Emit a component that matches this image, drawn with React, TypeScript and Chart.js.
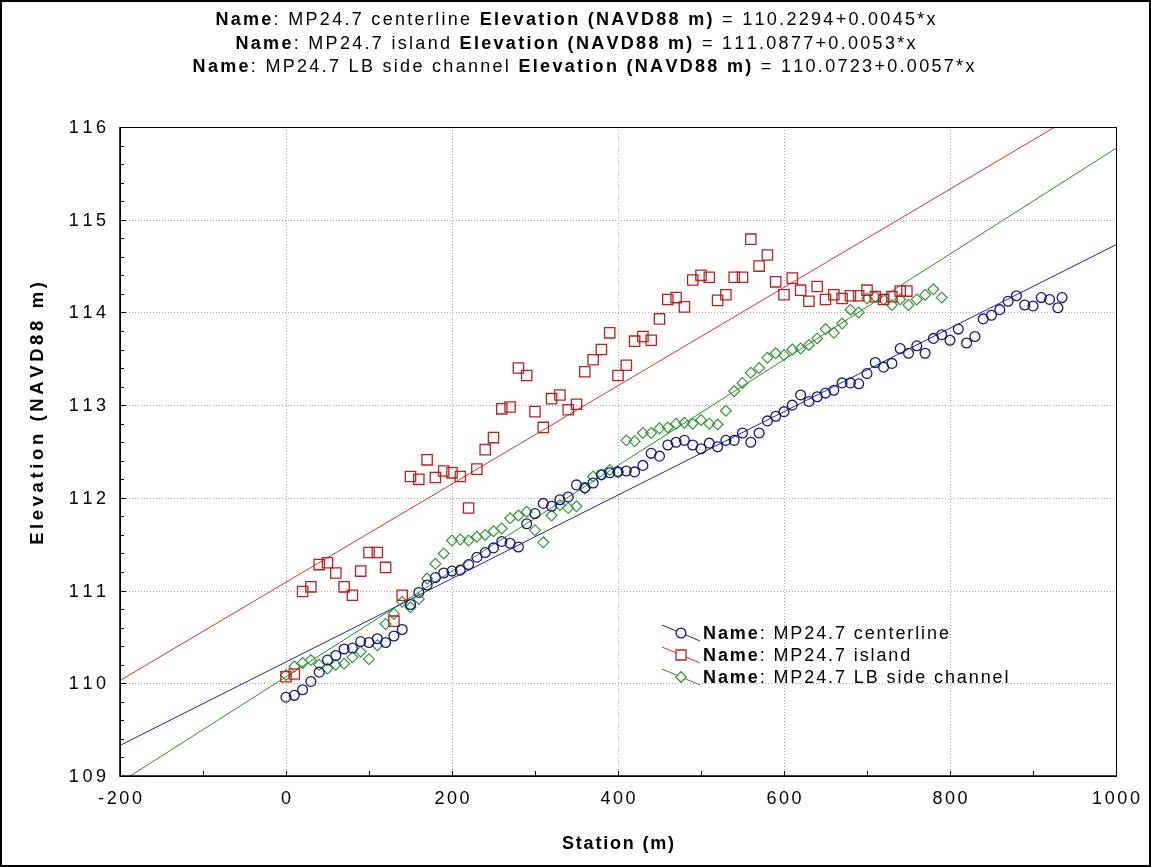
import React, { useEffect, useRef } from 'react';
import { Chart, registerables } from 'chart.js';

Chart.register(...registerables);

// ---------- data ----------
const centerlineStation = [0, 10, 20, 30, 40, 50, 60, 70, 80, 90, 100, 110, 120, 130, 140, 150, 160, 170, 180, 190, 200, 210, 220, 230, 240, 250, 260, 270, 280, 290, 300, 310, 320, 330, 340, 350, 360, 370, 380, 390, 400, 410, 420, 430, 440, 450, 460, 470, 480, 490, 500, 510, 520, 530, 540, 550, 560, 570, 580, 590, 600, 610, 620, 630, 640, 650, 660, 670, 680, 690, 700, 710, 720, 730, 740, 750, 760, 770, 780, 790, 800, 810, 820, 830, 840, 850, 860, 870, 880, 890, 900, 910, 920, 930, 935];
const centerlineElev = [109.85, 109.87, 109.93, 110.02, 110.12, 110.25, 110.3, 110.37, 110.38, 110.45, 110.44, 110.48, 110.44, 110.51, 110.58, 110.85, 110.98, 111.06, 111.14, 111.19, 111.21, 111.22, 111.28, 111.36, 111.41, 111.46, 111.53, 111.51, 111.47, 111.72, 111.83, 111.94, 111.91, 111.98, 112.01, 112.14, 112.11, 112.16, 112.25, 112.27, 112.28, 112.29, 112.28, 112.35, 112.48, 112.45, 112.57, 112.6, 112.62, 112.57, 112.53, 112.59, 112.55, 112.62, 112.62, 112.7, 112.6, 112.7, 112.83, 112.88, 112.93, 113.0, 113.11, 113.04, 113.09, 113.13, 113.16, 113.24, 113.24, 113.23, 113.34, 113.46, 113.41, 113.45, 113.61, 113.56, 113.64, 113.56, 113.72, 113.76, 113.7, 113.82, 113.67, 113.74, 113.93, 113.97, 114.03, 114.12, 114.18, 114.08, 114.07, 114.16, 114.14, 114.05, 114.16];

const islandStation = [0, 10, 20, 30, 40, 50, 60, 70, 80, 90, 100, 110, 120, 130, 140, 150, 160, 170, 180, 190, 200, 210, 220, 230, 240, 250, 260, 270, 280, 290, 300, 310, 320, 330, 340, 350, 360, 370, 380, 390, 400, 410, 420, 430, 440, 450, 460, 470, 480, 490, 500, 510, 520, 530, 540, 550, 560, 570, 580, 590, 600, 610, 620, 630, 640, 650, 660, 670, 680, 690, 700, 710, 720, 730, 740, 748];
const islandElev = [110.07, 110.1, 110.99, 111.04, 111.28, 111.3, 111.19, 111.04, 110.95, 111.21, 111.41, 111.41, 111.25, 110.67, 110.95, 112.23, 112.2, 112.41, 112.22, 112.29, 112.27, 112.23, 111.89, 112.31, 112.52, 112.65, 112.96, 112.98, 113.4, 113.32, 112.93, 112.76, 113.07, 113.11, 112.95, 113.01, 113.36, 113.49, 113.6, 113.78, 113.32, 113.43, 113.69, 113.74, 113.7, 113.93, 114.14, 114.16, 114.06, 114.35, 114.4, 114.38, 114.13, 114.19, 114.38, 114.38, 114.79, 114.5, 114.62, 114.33, 114.19, 114.37, 114.24, 114.12, 114.28, 114.14, 114.19, 114.15, 114.18, 114.18, 114.24, 114.17, 114.14, 114.17, 114.23, 114.23];

const sideStation = [0, 10, 20, 30, 40, 50, 60, 70, 80, 90, 100, 110, 120, 130, 140, 150, 160, 170, 180, 190, 200, 210, 220, 230, 240, 250, 260, 270, 280, 290, 300, 310, 320, 330, 340, 350, 360, 370, 380, 390, 400, 410, 420, 430, 440, 450, 460, 470, 480, 490, 500, 510, 520, 530, 540, 550, 560, 570, 580, 590, 600, 610, 620, 630, 640, 650, 660, 670, 680, 690, 700, 710, 720, 730, 740, 750, 760, 770, 780, 790];
const sideElev = [110.09, 110.18, 110.22, 110.25, 110.2, 110.16, 110.2, 110.21, 110.28, 110.34, 110.26, 110.41, 110.64, 110.75, 110.88, 110.82, 110.91, 111.13, 111.29, 111.4, 111.54, 111.55, 111.54, 111.58, 111.6, 111.64, 111.67, 111.78, 111.81, 111.85, 111.65, 111.52, 111.81, 111.92, 111.89, 111.91, 112.1, 112.23, 112.25, 112.3, 112.28, 112.62, 112.61, 112.7, 112.7, 112.75, 112.76, 112.8, 112.81, 112.8, 112.84, 112.8, 112.79, 112.94, 113.15, 113.24, 113.35, 113.4, 113.51, 113.56, 113.54, 113.6, 113.61, 113.65, 113.72, 113.82, 113.78, 113.88, 114.03, 114.0, 114.15, 114.17, 114.14, 114.08, 114.14, 114.08, 114.14, 114.19, 114.25, 114.16];

// regression lines (end points at the axis limits)
const fitStation = [-200, 1000];
const centerlineFit = [109.33, 114.73];
const islandFit = [110.03, 116.39];
const sideFit = [108.93, 115.77];

const xTicks = [-200, 0, 200, 400, 600, 800, 1000];
const yTicks = [109, 110, 111, 112, 113, 114, 115, 116];
const xMinorStep = 100;
const yMinorStep = 0.2;

const seriesNames = ['MP24.7 centerline', 'MP24.7 island', 'MP24.7 LB side channel'];
const fitEquations = ['110.2294+0.0045*x', '111.0877+0.0053*x', '110.0723+0.0057*x'];
const xAxisTitle = 'Station (m)';
const yAxisTitle = 'Elevation (NAVD88 m)';

// ---------- styles ----------
const FONT = '"Liberation Sans", Arial, Helvetica, sans-serif';
const BLUE = '#141480';
const BLUE_FIT = '#24249a';
const RED = '#b8201f';
const RED_FIT = '#cc3434';
const GREEN = '#36963a';
const GREEN_FIT = '#2c8a2c';

type Seg = { text: string; bold: boolean };

function setFont(ctx: CanvasRenderingContext2D, size: number, bold: boolean) {
  ctx.font = `${bold ? 'bold ' : ''}${size}px ${FONT}`;
}

function segWidth(ctx: CanvasRenderingContext2D, seg: Seg, size: number, ls: number) {
  setFont(ctx, size, seg.bold);
  let w = 0;
  for (const ch of seg.text) w += ctx.measureText(ch).width + ls;
  return w;
}

function richWidth(ctx: CanvasRenderingContext2D, segs: Seg[], size: number, ls: number) {
  return segs.reduce((a, s) => a + segWidth(ctx, s, size, ls), 0);
}

function drawRich(
  ctx: CanvasRenderingContext2D,
  segs: Seg[],
  x: number,
  y: number,
  size: number,
  ls: number,
  align: 'left' | 'center' | 'right'
) {
  const total = richWidth(ctx, segs, size, ls) - ls;
  let cx = align === 'left' ? x : align === 'center' ? x - total / 2 : x - total;
  ctx.textAlign = 'left';
  for (const s of segs) {
    setFont(ctx, size, s.bold);
    for (const ch of s.text) {
      ctx.fillText(ch, cx, y);
      cx += ctx.measureText(ch).width + ls;
    }
  }
}

function drawMarker(ctx: CanvasRenderingContext2D, kind: string, x: number, y: number, color: string) {
  ctx.save();
  ctx.strokeStyle = color;
  ctx.lineWidth = 1.3;
  ctx.beginPath();
  if (kind === 'circle') {
    ctx.arc(x, y, 4.9, 0, Math.PI * 2);
  } else if (kind === 'rect') {
    ctx.rect(x - 5, y - 5, 10, 10);
  } else {
    ctx.moveTo(x - 5.3, y);
    ctx.lineTo(x, y - 5.3);
    ctx.lineTo(x + 5.3, y);
    ctx.lineTo(x, y + 5.3);
    ctx.closePath();
  }
  ctx.fillStyle = '#ffffff';
  ctx.fill();
  ctx.stroke();
  ctx.restore();
}

const decorPlugin = {
  id: 'decor',
  beforeDraw(chart: any) {
    const ctx: CanvasRenderingContext2D = chart.ctx;
    ctx.save();
    ctx.fillStyle = '#ffffff';
    ctx.fillRect(0, 0, chart.width, chart.height);
    ctx.strokeStyle = '#000000';
    ctx.lineWidth = 2;
    ctx.strokeRect(1, 1, chart.width - 2, chart.height - 2);
    ctx.restore();
  },
  beforeDatasetsDraw(chart: any) {
    const ctx: CanvasRenderingContext2D = chart.ctx;
    const { left, right, top, bottom } = chart.chartArea;
    const xs = chart.scales.x;
    const ys = chart.scales.y;
    ctx.save();
    ctx.strokeStyle = '#a8a8a8';
    ctx.lineWidth = 1;
    ctx.setLineDash([1, 2]);
    for (const v of xTicks) {
      const px = Math.round(xs.getPixelForValue(v)) + 0.5;
      if (px <= left + 1 || px >= right - 1) continue;
      ctx.beginPath();
      ctx.moveTo(px, top);
      ctx.lineTo(px, bottom);
      ctx.stroke();
    }
    for (const v of yTicks) {
      const py = Math.round(ys.getPixelForValue(v)) + 0.5;
      if (py <= top + 1 || py >= bottom - 1) continue;
      ctx.beginPath();
      ctx.moveTo(left, py);
      ctx.lineTo(right, py);
      ctx.stroke();
    }
    ctx.restore();
  },
  afterDatasetsDraw(chart: any) {
    const ctx: CanvasRenderingContext2D = chart.ctx;
    const { left, right, top, bottom } = chart.chartArea;
    const xs = chart.scales.x;
    const ys = chart.scales.y;
    ctx.save();
    // plot frame
    ctx.strokeStyle = '#000000';
    ctx.lineWidth = 1;
    ctx.strokeRect(left + 0.5, top + 0.5, right - left, bottom - top);
    ctx.lineWidth = 1.5;
    ctx.beginPath();
    ctx.moveTo(left, top);
    ctx.lineTo(left, bottom);
    ctx.lineTo(right, bottom);
    ctx.stroke();

    // ticks
    ctx.lineWidth = 1;
    const xMin = xTicks[0];
    const xMax = xTicks[xTicks.length - 1];
    for (let i = 0; xMin + i * xMinorStep <= xMax + 1e-9; i++) {
      const v = xMin + i * xMinorStep;
      const px = Math.round(xs.getPixelForValue(v)) + 0.5;
      ctx.beginPath();
      ctx.moveTo(px, bottom);
      ctx.lineTo(px, bottom - 5);
      ctx.stroke();
    }
    const yMin = yTicks[0];
    const yMax = yTicks[yTicks.length - 1];
    const nY = Math.round((yMax - yMin) / yMinorStep);
    for (let i = 0; i <= nY; i++) {
      const v = yMin + i * yMinorStep;
      const py = Math.round(ys.getPixelForValue(v)) + 0.5;
      const major = i % 5 === 0;
      ctx.beginPath();
      ctx.moveTo(left, py);
      ctx.lineTo(left + (major ? 6 : 4), py);
      ctx.stroke();
    }

    // tick labels
    ctx.fillStyle = '#000000';
    ctx.textBaseline = 'alphabetic';
    for (const v of xTicks) {
      const px = xs.getPixelForValue(v);
      drawRich(ctx, [{ text: String(v), bold: false }], px, bottom + 28, 18, 2.6, 'center');
    }
    for (const v of yTicks) {
      const py = ys.getPixelForValue(v);
      drawRich(ctx, [{ text: String(v), bold: false }], left - 14, py + 6, 18, 3.6, 'right');
    }

    // axis titles
    drawRich(ctx, [{ text: xAxisTitle, bold: true }], (left + right) / 2, bottom + 73, 18, 1.8, 'center');
    ctx.save();
    ctx.translate(37, (top + bottom) / 2 - 38);
    ctx.rotate(-Math.PI / 2);
    drawRich(ctx, [{ text: yAxisTitle, bold: true }], 0, 6, 18.5, 3.6, 'center');
    ctx.restore();

    // title
    const titleX = chart.width / 2;
    seriesNames.forEach((name, i) => {
      const segs: Seg[] = [
        { text: 'Name', bold: true },
        { text: ': ' + name + ' ', bold: false },
        { text: 'Elevation (NAVD88 m)', bold: true },
        { text: ' = ' + fitEquations[i], bold: false },
      ];
      drawRich(ctx, segs, titleX + (i === 2 ? 8 : 0), 25 + i * 23.5, 18, 2.3, 'center');
    });

    // legend
    const legendColors = [BLUE, RED, GREEN];
    const legendLineColors = [BLUE_FIT, RED_FIT, GREEN_FIT];
    const legendKinds = ['circle', 'rect', 'diamond'];
    seriesNames.forEach((name, i) => {
      const cy = 633 + i * 22;
      const cx = 681;
      ctx.strokeStyle = legendLineColors[i];
      ctx.lineWidth = 1;
      ctx.beginPath();
      ctx.moveTo(cx - 19, cy - 8);
      ctx.lineTo(cx + 19, cy + 8);
      ctx.stroke();
      drawMarker(ctx, legendKinds[i], cx, cy, legendColors[i]);
      ctx.fillStyle = '#000000';
      drawRich(
        ctx,
        [
          { text: 'Name', bold: true },
          { text: ': ' + name, bold: false },
        ],
        703,
        cy + 6,
        18,
        1.9,
        'left'
      );
    });
    ctx.restore();
  },
};

function toPoints(xs: number[], ys: number[]) {
  return xs.map((x, i) => ({ x, y: ys[i] }));
}

export default function App() {
  const canvasRef = useRef<HTMLCanvasElement | null>(null);

  useEffect(() => {
    const canvas = canvasRef.current;
    if (!canvas) return;
    const chart = new Chart(canvas, {
      type: 'scatter',
      data: {
        datasets: [
          {
            label: seriesNames[0],
            data: toPoints(centerlineStation, centerlineElev),
            showLine: false,
            pointStyle: 'circle',
            pointRadius: 4.9,
            pointBorderWidth: 1.3,
            borderColor: BLUE,
            backgroundColor: 'rgba(255,255,255,0)',
          },
          {
            label: seriesNames[1],
            data: toPoints(islandStation, islandElev),
            showLine: false,
            pointStyle: 'rect',
            pointRadius: 7.3,
            pointBorderWidth: 1.3,
            borderColor: RED,
            backgroundColor: 'rgba(255,255,255,0)',
          },
          {
            label: seriesNames[2],
            data: toPoints(sideStation, sideElev),
            showLine: false,
            pointStyle: 'rectRot',
            pointRadius: 5.4,
            pointBorderWidth: 1.2,
            borderColor: GREEN,
            backgroundColor: 'rgba(255,255,255,0)',
          },
          {
            label: 'fit centerline',
            data: toPoints(fitStation, centerlineFit),
            showLine: true,
            pointRadius: 0,
            borderWidth: 1,
            borderColor: BLUE_FIT,
          },
          {
            label: 'fit island',
            data: toPoints(fitStation, islandFit),
            showLine: true,
            pointRadius: 0,
            borderWidth: 1,
            borderColor: RED_FIT,
          },
          {
            label: 'fit side channel',
            data: toPoints(fitStation, sideFit),
            showLine: true,
            pointRadius: 0,
            borderWidth: 1,
            borderColor: GREEN_FIT,
          },
        ],
      },
      options: {
        responsive: false,
        animation: false,
        devicePixelRatio: 1,
        layout: { padding: { left: 120, top: 127, right: 35, bottom: 91 } },
        plugins: {
          legend: { display: false },
          tooltip: { enabled: false },
          title: { display: false },
        },
        events: [],
        scales: {
          x: { type: 'linear', min: -200, max: 1000, display: false },
          y: { type: 'linear', min: 109, max: 116, display: false },
        },
      },
      plugins: [decorPlugin],
    } as any);
    return () => chart.destroy();
  }, []);

  return (
    <div style={{ position: 'fixed', left: 0, top: 0, width: 1151, height: 867, background: '#ffffff' }}>
      <canvas ref={canvasRef} width={1151} height={867} style={{ display: 'block' }} />
    </div>
  );
}
